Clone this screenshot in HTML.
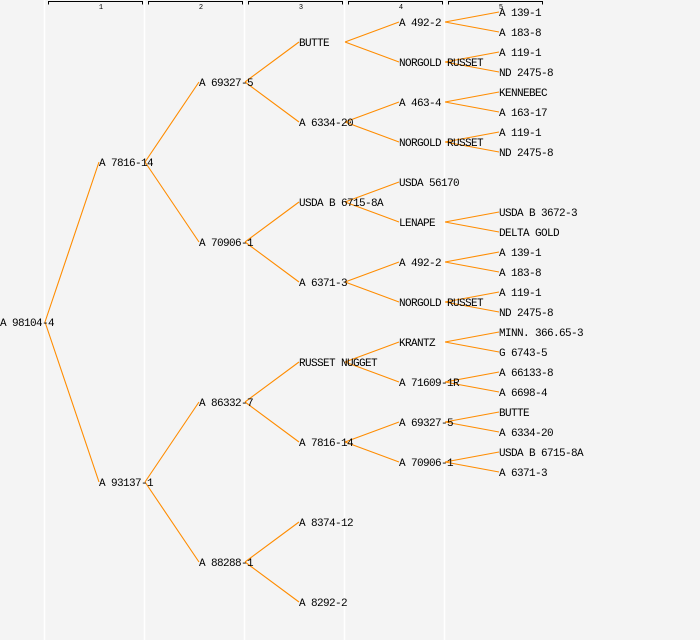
<!DOCTYPE html>
<html><head><meta charset="utf-8"><style>
html,body{margin:0;padding:0;background:#f4f4f4;}
svg{display:block}
text{font-family:"Liberation Mono","DejaVu Sans Mono",monospace;font-size:11px;letter-spacing:-0.6px;fill:#000}
.h{font-size:7px;letter-spacing:0;text-anchor:middle}
</style></head><body>
<svg width="700" height="640" viewBox="0 0 700 640" xmlns="http://www.w3.org/2000/svg">
<rect width="700" height="640" fill="#f4f4f4"/>
<g stroke="#fff" stroke-width="1.5">
<line x1="44.5" y1="0" x2="44.5" y2="640"/><line x1="144.5" y1="0" x2="144.5" y2="640"/>
<line x1="244.5" y1="0" x2="244.5" y2="640"/><line x1="344.5" y1="0" x2="344.5" y2="640"/>
<line x1="444.5" y1="0" x2="444.5" y2="640"/>
</g>
<g stroke="#000" stroke-width="1" fill="none">
<path d="M48.5 4.5V1.5H142.5V4.5"/><path d="M148.5 4.5V1.5H242.5V4.5"/>
<path d="M248.5 4.5V1.5H342.5V4.5"/><path d="M348.5 4.5V1.5H442.5V4.5"/>
<path d="M448.5 4.5V1.5H542.5V4.5"/>
</g>
<text class="h" x="101" y="9">1</text><text class="h" x="201" y="9">2</text>
<text class="h" x="301" y="9">3</text><text class="h" x="401" y="9">4</text>
<text class="h" x="501" y="9">5</text>
<g stroke="#ff8c00" stroke-width="1.1" fill="none">
<path d="M45 322L99 162M45 322L99 482"/>
<path d="M145 162L199 82M145 162L199 242M145 482L199 402M145 482L199 562"/>
<path d="M245 82L299 42M245 82L299 122M245 242L299 202M245 242L299 282M245 402L299 362M245 402L299 442M245 562L299 522M245 562L299 602"/>
<path d="M345 42L399 22M345 42L399 62M345 122L399 102M345 122L399 142M345 202L399 182M345 202L399 222M345 282L399 262M345 282L399 302M345 362L399 342M345 362L399 382M345 442L399 422M345 442L399 462"/>
<path d="M445 22L499 12M445 22L499 32M445 62L499 52M445 62L499 72M445 102L499 92M445 102L499 112M445 142L499 132M445 142L499 152M445 222L499 212M445 222L499 232M445 262L499 252M445 262L499 272M445 302L499 292M445 302L499 312M445 342L499 332M445 342L499 352M445 382L499 372M445 382L499 392M445 422L499 412M445 422L499 432M445 462L499 452M445 462L499 472"/>
</g>
<g>
<text x="0" y="326">A 98104-4</text>
<text x="99" y="166">A 7816-14</text><text x="99" y="486">A 93137-1</text>
<text x="199" y="86">A 69327-5</text><text x="199" y="246">A 70906-1</text>
<text x="199" y="406">A 86332-7</text><text x="199" y="566">A 88288-1</text>
<text x="299" y="46">BUTTE</text><text x="299" y="126">A 6334-20</text>
<text x="299" y="206">USDA B 6715-8A</text><text x="299" y="286">A 6371-3</text>
<text x="299" y="366">RUSSET NUGGET</text><text x="299" y="446">A 7816-14</text>
<text x="299" y="526">A 8374-12</text><text x="299" y="606">A 8292-2</text>
<text x="399" y="26">A 492-2</text><text x="399" y="66">NORGOLD RUSSET</text>
<text x="399" y="106">A 463-4</text><text x="399" y="146">NORGOLD RUSSET</text>
<text x="399" y="186">USDA 56170</text><text x="399" y="226">LENAPE</text>
<text x="399" y="266">A 492-2</text><text x="399" y="306">NORGOLD RUSSET</text>
<text x="399" y="346">KRANTZ</text><text x="399" y="386">A 71609-1R</text>
<text x="399" y="426">A 69327-5</text><text x="399" y="466">A 70906-1</text>
<text x="499" y="16">A 139-1</text><text x="499" y="36">A 183-8</text>
<text x="499" y="56">A 119-1</text><text x="499" y="76">ND 2475-8</text>
<text x="499" y="96">KENNEBEC</text><text x="499" y="116">A 163-17</text>
<text x="499" y="136">A 119-1</text><text x="499" y="156">ND 2475-8</text>
<text x="499" y="216">USDA B 3672-3</text><text x="499" y="236">DELTA GOLD</text>
<text x="499" y="256">A 139-1</text><text x="499" y="276">A 183-8</text>
<text x="499" y="296">A 119-1</text><text x="499" y="316">ND 2475-8</text>
<text x="499" y="336">MINN. 366.65-3</text><text x="499" y="356">G 6743-5</text>
<text x="499" y="376">A 66133-8</text><text x="499" y="396">A 6698-4</text>
<text x="499" y="416">BUTTE</text><text x="499" y="436">A 6334-20</text>
<text x="499" y="456">USDA B 6715-8A</text><text x="499" y="476">A 6371-3</text>
</g>
</svg>
</body></html>
